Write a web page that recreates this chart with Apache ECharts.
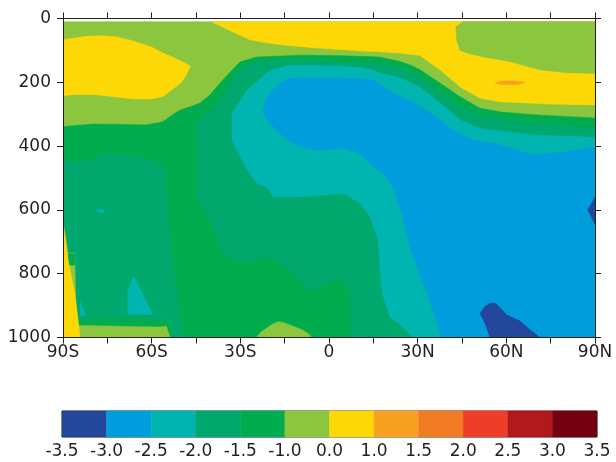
<!DOCTYPE html>
<html>
<head>
<meta charset="utf-8">
<script src="https://cdn.jsdelivr.net/npm/echarts@6/dist/echarts.min.js"></script>
<style>
  html, body { margin: 0; padding: 0; background: #ffffff; }
  #chart { width: 616px; height: 462px; }
</style>
</head>
<body>
<div id="chart"></div>
<script>
// Axis ticks and labels
const latTicks = [-90, -60, -30, 0, 30, 60, 90];
const latTickLabels = ['90S', '60S', '30S', '0', '30N', '60N', '90N'];
const presTicks = [0, 200, 400, 600, 800, 1000];

// Contour levels and their fill colours (12 classes)
const levels = [-3.5, -3, -2.5, -2, -1.5, -1, 0, 1, 1.5, 2, 2.5, 3, 3.5];
const levelLabels = ['-3.5', '-3.0', '-2.5', '-2.0', '-1.5', '-1.0', '0.0', '1.0', '1.5', '2.0', '2.5', '3.0', '3.5'];
const palette = ['#23479b', '#009ddc', '#00b5b0', '#00a86d', '#00ac4d', '#8cc63f',
                 '#fed806', '#f8a11f', '#f17b22', '#ee3d29', '#b2191f', '#740012'];

// Filled regions: rows of [latitude, upper pressure, lower pressure] (hPa)
const fieldBase = [[-90, 10, 1000], [90, 10, 1000]];
const yellowSouth = [[-90, 67, 242], [-86, 61, 238], [-82, 56, 238], [-77.5, 54, 240], [-72, 57, 246],
  [-66, 71, 252], [-60, 90, 252], [-56, 109, 244], [-53, 121, 222], [-50, 134, 201], [-48.5, 141, 180], [-47, 149, 151]];
const greenBody = [[-90, 339, 1000], [-80, 331, 1000], [-70, 332, 1000], [-62, 334, 1000], [-56.2, 324, 1000],
  [-53.1, 303, 1000], [-50.4, 287, 1000], [-47, 277, 1000], [-43.6, 265, 1000], [-40.3, 240, 1000],
  [-35.9, 193, 1000], [-33, 164, 1000], [-30.1, 136, 1000], [-24.4, 121, 1000], [-10, 115, 1000],
  [5, 117, 1000], [17, 121, 1000], [24, 135, 1000], [28, 148, 1000], [30.8, 161, 1000], [37.6, 203, 1000],
  [44.3, 245, 1000], [51, 281, 1000], [58, 293, 1000], [69, 302, 1000], [80, 307, 1000], [90, 312, 1000]];
const tealGreenSouth = [[-90, 438, 1000], [-86, 453, 1000], [-80, 441, 1000], [-75, 425, 1000], [-71, 427, 1000],
  [-64, 434, 1000], [-58, 452, 1000], [-55.5, 470, 1000], [-53.1, 758, 1000], [-49.4, 1000, 1000]];
const tealGreenMain = [[-44.8, 330, 560], [-43, 306, 590], [-40.3, 292, 631], [-37, 262, 712], [-33.5, 203, 752],
  [-29, 152, 763], [-24.4, 137, 752], [-19, 133, 751], [-15.6, 131, 773], [-10.8, 130, 813], [-5.4, 132, 857],
  [-0.7, 134, 829], [3, 136, 813], [6, 137, 829], [7, 138, 860], [7.5, 138, 1000], [15, 140, 1000],
  [24, 152, 1000], [30.8, 187, 1000], [37.6, 230, 1000], [44.3, 277, 1000], [51, 302, 1000],
  [63.6, 324, 1000], [90, 344, 1000]];
const tealMain = [[-32.8, 297, 381], [-30, 259, 434], [-27.7, 224, 475], [-24.4, 198, 516], [-21, 171, 530],
  [-18.9, 160, 559], [-14.2, 148, 559], [-9.8, 147, 559], [-2, 148, 553], [4.7, 150, 547], [10.5, 154, 579],
  [14, 160, 622], [16.6, 168, 695], [17.3, 171, 788], [18, 173, 861], [20.6, 178, 935], [25, 190, 967],
  [28.4, 205, 1000], [30.8, 216, 1000], [37.6, 265, 1000], [44.3, 318, 1000], [51, 344, 1000],
  [69, 365, 1000], [90, 372, 1000]];
const blueCore = [[-22.4, 293, 293], [-21, 246, 318], [-20, 232, 328], [-16.6, 203, 360], [-13.2, 187, 385],
  [-9.8, 187, 403], [-4.1, 187, 412], [4.7, 187, 407], [10.5, 189, 423], [14.9, 193, 465], [17.9, 210, 480],
  [21.6, 231, 527], [24.7, 248, 611], [27.4, 257, 716], [30.1, 271, 788], [33.2, 290, 861], [35.9, 307, 935],
  [38.2, 323, 1000], [42, 350, 1000], [48.7, 381, 1000], [57.9, 396, 1000], [69, 428, 1000],
  [80.5, 418, 1000], [90, 403, 1000]];
const yellowNorth = [[-39.8, 10, 10], [-37, 10, 22], [-32.5, 10, 42], [-26.7, 10, 67], [-21, 10, 76],
  [-15.6, 10, 83], [-7, 10, 90], [1.4, 10, 96], [10, 10, 101], [18.3, 10, 105], [24, 10, 108],
  [30.8, 10, 116], [37.6, 10, 161], [44.3, 10, 214], [51.1, 10, 250], [57.9, 10, 261], [74.8, 10, 268],
  [90, 10, 271]];
const lightGreenNorth = [[42.9, 27, 27], [43.2, 24, 67], [44.3, 17, 99], [45.4, 10, 103], [46.6, 10, 108],
  [52.1, 10, 120], [61.2, 10, 135], [71.4, 10, 161], [80.5, 10, 170], [90, 10, 172]];
const orangeCell = [[56.2, 202, 202], [58, 197, 206], [61, 195, 208], [64, 197, 206], [66.3, 201, 201]];
const darkBlueSurface = [[51.1, 925, 925], [52.8, 903, 955], [54.5, 893, 1000], [56.4, 893, 1000],
  [60.2, 930, 1000], [64.6, 948, 1000], [68, 976, 1000], [71.4, 1000, 1000]];
const darkBluePole = [[87.6, 600, 600], [90, 560, 645]];
const greenSurfaceSouth = [[-85.5, 945, 1000], [-76, 940, 1000], [-68, 938, 1000], [-60, 943, 1000],
  [-57, 945, 1000], [-53.5, 950, 1000]];
const lightGreenSurfaceSouth = [[-86.5, 962, 1000], [-75, 964, 1000], [-65, 966, 1000], [-57, 967, 1000],
  [-55, 965, 1000], [-53.8, 1000, 1000]];
const lightGreenSurfaceMid = [[-24.6, 1000, 1000], [-23, 983, 1000], [-21, 970, 1000], [-19, 958, 1000],
  [-17.3, 951, 1000], [-15.5, 953, 1000], [-13.2, 961, 1000], [-9.1, 976, 1000], [-7, 988, 1000],
  [-5.8, 1000, 1000]];
const lightGreenPoleSouth = [[-90, 641, 1000], [-89, 690, 1000], [-88.3, 735, 1000], [-86, 735, 1000],
  [-85.8, 860, 1000], [-85.7, 870, 1000]];
const greenPatchSouth = [[-88.2, 737, 773], [-86, 737, 773]];
const yellowPoleSouth = [[-90, 641, 1000], [-88.3, 757, 1000], [-86, 860, 1000], [-84.2, 1000, 1000]];
const tealSpeckSouth = [[-78.6, 603, 603], [-78, 598, 609], [-76.5, 598, 609], [-75.8, 603, 603]];
const tealWedgeSouth = [[-84.1, 888, 930], [-82.4, 930, 930]];
const tealPeakSouth = [[-68.1, 851, 927], [-66, 809, 927], [-59.7, 927, 927]];

// Drawing order (later layers paint over earlier ones) with a value inside each class
const layers = [
  [fieldBase, -0.5], [yellowSouth, 0.5], [greenBody, -1.25], [tealGreenSouth, -1.75],
  [tealGreenMain, -1.75], [tealMain, -2.25], [blueCore, -2.75], [yellowNorth, 0.5],
  [lightGreenNorth, -0.5], [orangeCell, 1.25], [darkBlueSurface, -3.25], [darkBluePole, -3.25],
  [greenSurfaceSouth, -1.25], [lightGreenSurfaceSouth, -0.5], [lightGreenSurfaceMid, -0.5],
  [lightGreenPoleSouth, -0.5], [greenPatchSouth, -1.25], [yellowPoleSouth, 0.5],
  [tealSpeckSouth, -2.25], [tealWedgeSouth, -2.25], [tealPeakSouth, -2.25]
];

function classColor(v) {
  for (let i = 0; i < palette.length; i++) {
    if (v >= levels[i] && v < levels[i + 1]) return palette[i];
  }
  return palette[palette.length - 1];
}

function regionSeries(rows, value) {
  const color = classColor(value);
  return {
    type: 'custom',
    xAxisIndex: 0,
    yAxisIndex: 0,
    clip: true,
    silent: true,
    data: rows,
    encode: { x: 0, y: [1, 2] },
    renderItem: function (params, api) {
      if (params.dataIndex !== 0) return null;
      const upper = rows.map(function (r) { return api.coord([r[0], r[1]]); });
      const lower = rows.slice().reverse().map(function (r) { return api.coord([r[0], r[2]]); });
      return {
        type: 'polygon',
        shape: { points: upper.concat(lower) },
        style: { fill: color, stroke: color, lineWidth: 0.6 }
      };
    }
  };
}

const textColor = '#231f20';
const fontFamily = 'DejaVu Sans, Liberation Sans, sans-serif';
const fontSize = 17;

const latAxisBase = {
  gridIndex: 0, type: 'value', min: -90, max: 90, interval: 15, z: 5,
  axisLine: { show: true, onZero: false, lineStyle: { color: textColor, width: 1 } },
  axisTick: { show: true, inside: false, length: 6, lineStyle: { color: textColor, width: 1 } },
  splitLine: { show: false }
};
const presAxisBase = {
  gridIndex: 0, type: 'value', min: 0, max: 1000, interval: 200, inverse: true, z: 5,
  axisLine: { show: true, onZero: false, lineStyle: { color: textColor, width: 1 } },
  axisTick: { show: true, inside: false, length: 6, lineStyle: { color: textColor, width: 1 } },
  splitLine: { show: false }
};

const option = {
  animation: false,
  backgroundColor: '#ffffff',
  grid: [
    { left: 63, top: 18.5, width: 532, height: 319 },
    { left: 62, top: 411, width: 535, height: 26, show: true, borderColor: '#333333', borderWidth: 1, backgroundColor: 'transparent' }
  ],
  xAxis: [
    Object.assign({}, latAxisBase, {
      position: 'bottom',
      axisLabel: {
        show: true, margin: 7, color: textColor, fontFamily: fontFamily, fontSize: fontSize,
        formatter: function (v) {
          const k = latTicks.indexOf(v);
          return k >= 0 ? latTickLabels[k] : '';
        }
      }
    }),
    Object.assign({}, latAxisBase, { position: 'top', axisLabel: { show: false } }),
    {
      gridIndex: 1, type: 'value', min: 0, max: levels.length - 1, interval: 1,
      axisLine: { show: false, onZero: false }, axisTick: { show: false }, splitLine: { show: false },
      axisLabel: {
        show: true, margin: 6, color: textColor, fontFamily: fontFamily, fontSize: fontSize,
        formatter: function (v) { return levelLabels[v] || ''; }
      }
    }
  ],
  yAxis: [
    Object.assign({}, presAxisBase, {
      position: 'left',
      axisLabel: {
        show: true, margin: 12, color: textColor, fontFamily: fontFamily, fontSize: fontSize,
        formatter: function (v) { return presTicks.indexOf(v) >= 0 ? String(v) : ''; }
      }
    }),
    Object.assign({}, presAxisBase, { position: 'right', axisLabel: { show: false } }),
    {
      gridIndex: 1, type: 'value', min: 0, max: 1, show: false,
      axisLine: { show: false, onZero: false }, axisTick: { show: false }, splitLine: { show: false }
    }
  ],
  series: layers.map(function (l) { return regionSeries(l[0], l[1]); }).concat([{
    type: 'custom',
    xAxisIndex: 2,
    yAxisIndex: 2,
    silent: true,
    data: palette.map(function (c, i) { return [i, i + 1]; }),
    renderItem: function (params, api) {
      const p0 = api.coord([api.value(0), 1]);
      const p1 = api.coord([api.value(1), 0]);
      return {
        type: 'rect',
        shape: { x: p0[0], y: p0[1], width: p1[0] - p0[0], height: p1[1] - p0[1] },
        style: { fill: palette[params.dataIndex], stroke: palette[params.dataIndex], lineWidth: 0.5 }
      };
    }
  }])
};

const chart = echarts.init(document.getElementById('chart'), null, { renderer: 'canvas' });
chart.setOption(option);
</script>
</body>
</html>
